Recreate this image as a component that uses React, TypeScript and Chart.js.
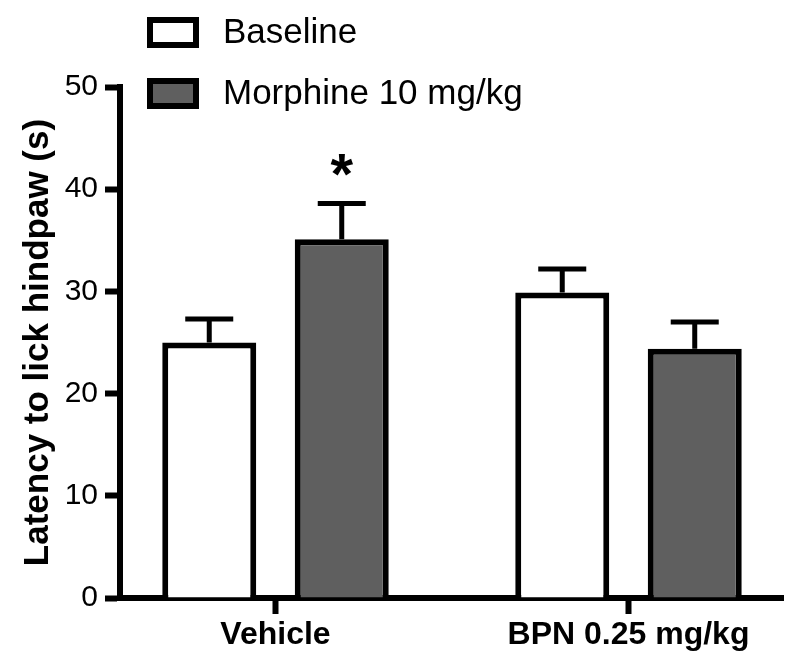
import React, { useEffect, useRef } from 'react';
import { Chart, registerables } from 'chart.js';

Chart.register(...registerables);

// ---- data ----
const groups = ['Vehicle', 'BPN 0.25 mg/kg'];
const seriesNames = ['Baseline', 'Morphine 10 mg/kg'];
const baselineMeans = [25.0, 29.9];
const baselineSem = [2.3, 2.3];
const baselineMarks = ['', ''];
const morphineMeans = [35.1, 24.4];
const morphineSem = [3.5, 2.6];
const morphineMarks = ['*', ''];
const yTickValues = [0, 10, 20, 30, 40, 50];
const yTitle = 'Latency to lick hindpaw (s)';

// ---- style ----
const FONT = '"Liberation Sans", Arial, Helvetica, sans-serif';
const BLACK = '#000000';
const GREY = '#5f5f5f';

const errorBarPlugin = {
  id: 'errorBars',
  afterDatasetsDraw(chart: any) {
    const ctx = chart.ctx;
    const yScale = chart.scales.y;
    chart.data.datasets.forEach((ds: any, di: number) => {
      const meta = chart.getDatasetMeta(di);
      meta.data.forEach((bar: any, i: number) => {
        const v = ds.data[i].y;
        const e = ds.errors[i];
        const topY = yScale.getPixelForValue(v + e);
        ctx.save();
        ctx.strokeStyle = BLACK;
        ctx.lineWidth = 5;
        ctx.lineCap = 'butt';
        ctx.beginPath();
        ctx.moveTo(bar.x, bar.y);
        ctx.lineTo(bar.x, topY);
        ctx.moveTo(bar.x - 24, topY);
        ctx.lineTo(bar.x + 24, topY);
        ctx.stroke();
        const mark = ds.marks[i];
        if (mark) {
          ctx.fillStyle = BLACK;
          ctx.font = `bold 58px ${FONT}`;
          ctx.textAlign = 'center';
          ctx.textBaseline = 'alphabetic';
          ctx.fillText(mark, bar.x, topY - 10);
        }
        ctx.restore();
      });
    });
  },
};

const boxLegendPlugin = {
  id: 'boxLegend',
  afterDraw(chart: any) {
    const ctx = chart.ctx;
    chart.data.datasets.forEach((ds: any, i: number) => {
      const bx = 147;
      const by = 17 + i * 61;
      const bw = 52;
      const bh = 31;
      const bt = 6;
      ctx.save();
      ctx.fillStyle = BLACK;
      ctx.fillRect(bx, by, bw, bh);
      ctx.fillStyle = ds.backgroundColor;
      ctx.fillRect(bx + bt, by + bt, bw - 2 * bt, bh - 2 * bt);
      ctx.fillStyle = BLACK;
      ctx.font = `35px ${FONT}`;
      ctx.textAlign = 'left';
      ctx.textBaseline = 'middle';
      ctx.fillText(ds.label, 223, by + bh / 2 + 1);
      ctx.restore();
    });
  },
};

export default function App() {
  const canvasRef = useRef<HTMLCanvasElement | null>(null);

  useEffect(() => {
    if (!canvasRef.current) return;
    const chart = new Chart(canvasRef.current, {
      type: 'bar',
      data: {
        datasets: [
          {
            label: seriesNames[0],
            data: baselineMeans.map((v, i) => ({ x: i, y: v })),
            errors: baselineSem,
            marks: baselineMarks,
            backgroundColor: '#ffffff',
            borderColor: BLACK,
            borderWidth: 6,
            categoryPercentage: 0.7507,
            barPercentage: 0.7094,
          } as any,
          {
            label: seriesNames[1],
            data: morphineMeans.map((v, i) => ({ x: i, y: v })),
            errors: morphineSem,
            marks: morphineMarks,
            backgroundColor: GREY,
            borderColor: BLACK,
            borderWidth: 6,
            categoryPercentage: 0.7507,
            barPercentage: 0.7094,
          } as any,
        ],
      },
      options: {
        responsive: false,
        animation: false,
        devicePixelRatio: 1,
        layout: { padding: { top: 87, right: 16, bottom: 0, left: 0 } },
        plugins: {
          legend: { display: false },
          tooltip: { enabled: false },
        },
        scales: {
          x: {
            type: 'linear',
            min: -0.4405,
            max: 1.4377,
            bounds: 'data',
            offset: false,
            z: 1,
            afterBuildTicks: (s: any) => {
              s.ticks = groups.map((_, i) => ({ value: i }));
            },
            afterFit: (s: any) => {
              s.height = 65;
            },
            ticks: {
              autoSkip: false,
              maxRotation: 0,
              minRotation: 0,
              padding: 2,
              color: BLACK,
              font: { family: FONT, size: 32, weight: 'bold' },
              callback: (v: any) => groups[v] ?? '',
            },
            grid: {
              offset: false,
              drawOnChartArea: false,
              drawTicks: true,
              tickLength: 16,
              tickWidth: 6,
              tickColor: BLACK,
              color: BLACK,
            },
            border: { display: true, color: BLACK, width: 6 },
          } as any,
          y: {
            min: 0,
            max: 50,
            z: 1,
            afterBuildTicks: (s: any) => {
              s.ticks = yTickValues.map((v) => ({ value: v }));
            },
            afterFit: (s: any) => {
              s.width = 120;
            },
            ticks: {
              padding: 7,
              color: BLACK,
              font: { family: FONT, size: 30 },
            },
            grid: {
              drawOnChartArea: false,
              drawTicks: true,
              tickLength: 15,
              tickWidth: 6,
              tickColor: BLACK,
              color: BLACK,
            },
            border: { display: true, color: BLACK, width: 6 },
            title: {
              display: true,
              text: yTitle,
              color: BLACK,
              font: { family: FONT, size: 35, weight: 'bold' },
              padding: { top: 17, bottom: 0 },
            },
          } as any,
        },
      },
      plugins: [errorBarPlugin, boxLegendPlugin],
    });
    return () => chart.destroy();
  }, []);

  return (
    <div style={{ position: 'fixed', left: 0, top: 0, width: 799, height: 663, background: '#ffffff' }}>
      <canvas ref={canvasRef} width={799} height={663} style={{ display: 'block' }} />
    </div>
  );
}
